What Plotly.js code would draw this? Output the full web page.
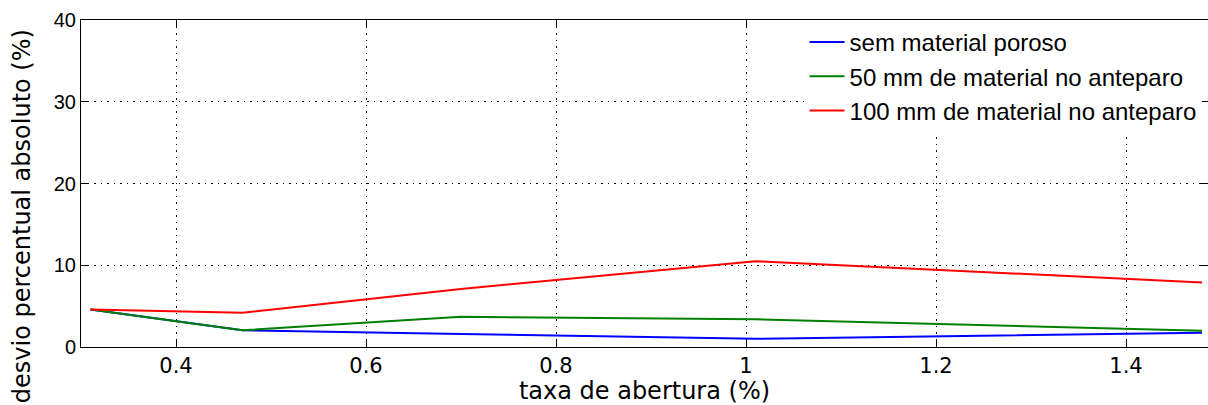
<!DOCTYPE html>
<html>
<head>
<meta charset="utf-8">
<script src="https://cdn.plot.ly/plotly-3.0.1.min.js"></script>
<style>html,body{margin:0;padding:0;background:#fff;}#chart{width:1208px;height:405px;}</style>
</head>
<body>
<div id="chart"></div>
<script>
// Data
const taxa = [0.31, 0.47, 0.70, 1.01, 1.48];
const semMaterial = [4.6, 2.05, 1.6, 1.0, 1.75];
const mat50 = [4.6, 2.05, 3.7, 3.4, 2.0];
const mat100 = [4.6, 4.2, 7.1, 10.5, 7.9];
const seriesNames = ['sem material poroso', '50 mm de material no anteparo', '100 mm de material no anteparo'];
const xTicks = [0.4, 0.6, 0.8, 1, 1.2, 1.4];
const yTicks = [0, 10, 20, 30, 40];

const colors = ['#0000ff', '#008000', '#ff0000'];
const ys = [semMaterial, mat50, mat100];
const traces = ys.map((y, i) => ({
  x: taxa, y: y, type: 'scatter', mode: 'lines', name: seriesNames[i],
  line: {color: colors[i], width: 2}
}));

const layout = {
  width: 1208, height: 405,
  margin: {l: 81, r: 0, t: 20, b: 58},
  paper_bgcolor: '#fff', plot_bgcolor: '#fff',
  showlegend: true,
  legend: {
    x: 0.642, y: 1.0, xanchor: 'left', yanchor: 'top',
    bgcolor: '#ffffff', borderwidth: 0,
    font: {family: 'Liberation Sans, Arial, sans-serif', size: 24, color: '#000'},
    itemwidth: 35
  },
  xaxis: {
    range: [0.3, 1.4863], tickvals: xTicks, ticktext: xTicks.map(String),
    showline: true, linecolor: '#000', linewidth: 1, mirror: 'ticks',
    ticks: 'inside', ticklen: 8, tickcolor: '#000',
    showgrid: true, gridcolor: '#000', gridwidth: 1, griddash: '1.5px,5px',
    zeroline: false,
    tickfont: {family: 'DejaVu Sans, sans-serif', size: 21, color: '#000'},
    title: {text: 'taxa de abertura (%)', font: {family: 'DejaVu Sans, sans-serif', size: 24, color: '#000'}, standoff: 6}
  },
  yaxis: {
    range: [0, 40], tickvals: yTicks, ticktext: yTicks.map(String),
    showline: true, linecolor: '#000', linewidth: 1, mirror: 'ticks',
    ticks: 'inside', ticklen: 8, tickcolor: '#000',
    showgrid: true, gridcolor: '#000', gridwidth: 1, griddash: '1.5px,5px',
    zeroline: false,
    tickfont: {family: 'Liberation Sans, Arial, sans-serif', size: 20, color: '#000'}
  },
  annotations: [{
    text: 'desvio percentual absoluto (%)', textangle: -90,
    xref: 'paper', yref: 'paper', x: 0, y: 0.40, xshift: -59,
    xanchor: 'center', yanchor: 'middle', showarrow: false,
    font: {family: 'DejaVu Sans, sans-serif', size: 24, color: '#000'}
  }]
};

Plotly.newPlot('chart', traces, layout, {displayModeBar: false, staticPlot: true});
</script>
</body>
</html>
